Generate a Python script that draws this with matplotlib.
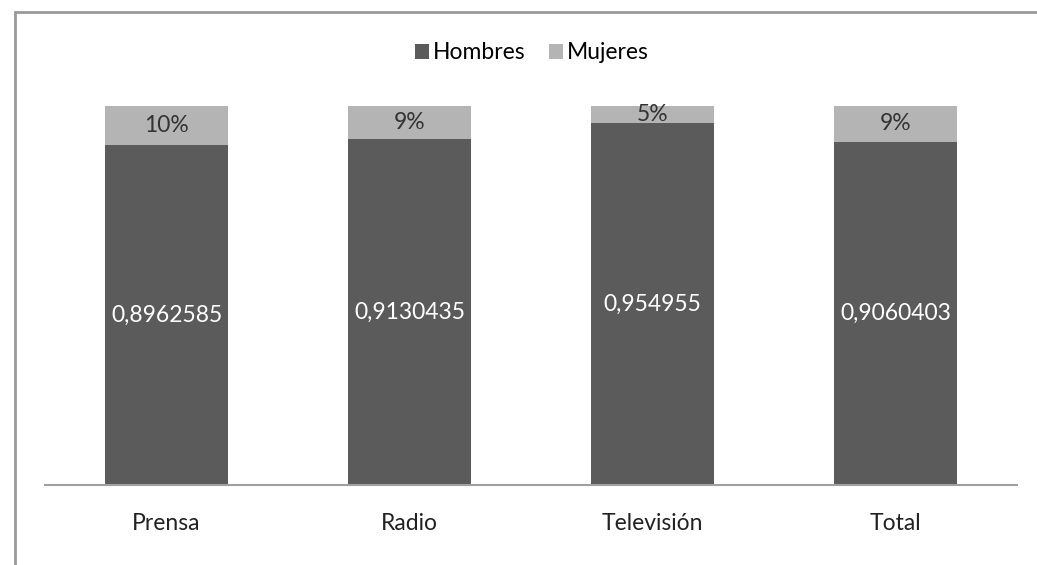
import matplotlib.pyplot as plt
from matplotlib.patches import Rectangle

# Data
categorias = ['Prensa', 'Radio', 'Televisión', 'Total']
hombres = [0.8962585, 0.9130435, 0.954955, 0.9060403]
mujeres = [0.1037415, 0.0869565, 0.045045, 0.0939597]

c_hombres = '#5b5b5b'
c_mujeres = '#b4b4b4'

plt.rcParams['font.family'] = ['Lato', 'DejaVu Sans']
fs = 16.5

fig = plt.figure(figsize=(10.37, 5.65), dpi=100)
ax = fig.add_axes([45 / 1037, 80 / 565, 972 / 1037, 379 / 565])

x = range(len(categorias))
b1 = ax.bar(x, hombres, width=0.51, color=c_hombres, label='Hombres')
b2 = ax.bar(x, mujeres, width=0.51, bottom=hombres, color=c_mujeres, label='Mujeres')

# value labels
for i, (h, m) in enumerate(zip(hombres, mujeres)):
    ax.text(i, h / 2, f'{h:.7g}'.replace('.', ','), ha='center', va='center',
            color='white', fontsize=fs)
    ax.text(i, h + m / 2, f'{m:.0%}', ha='center', va='center',
            color='#333333', fontsize=fs)

ax.set_xlim(-0.5, 3.5)
ax.set_ylim(0, 1)
ax.set_xticks(list(x))
ax.set_xticklabels(categorias, fontsize=fs, color='#222222')
ax.tick_params(axis='x', length=0, pad=20)
ax.set_yticks([])
for s in ['top', 'right', 'left']:
    ax.spines[s].set_visible(False)
ax.spines['bottom'].set_color('#a0a0a0')
ax.spines['bottom'].set_linewidth(1.5)

fig.legend(handles=[b1, b2], loc='center', bbox_to_anchor=(532 / 1037, 1 - 53 / 565),
           ncol=2, frameon=False, fontsize=fs, handlelength=0.6, handleheight=0.6,
           handletextpad=0.2, columnspacing=1.0)

# outer chart frame (cropped at right and bottom)
fig.patches.append(Rectangle((15 / 1037, -0.1), 1.2, 1.1 - 12.5 / 565,
                             transform=fig.transFigure, fill=False,
                             edgecolor='#9a9a9a', linewidth=2))

fig.savefig('out.png', dpi=100)
